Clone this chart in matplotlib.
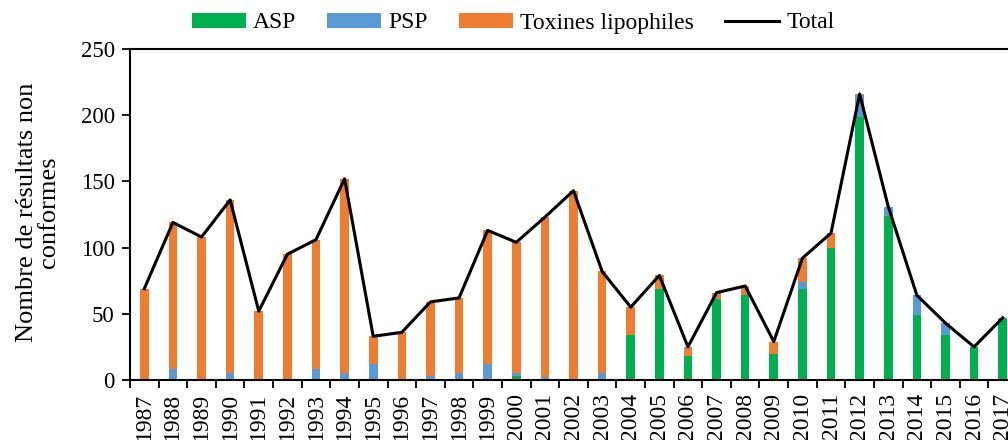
import matplotlib.pyplot as plt
import numpy as np
from matplotlib.lines import Line2D
from matplotlib.patches import Patch

YEARS = list(range(1987, 2018))

ASP = [0, 0, 0, 0, 0, 0, 0, 0, 0, 0,
       0, 0, 0, 3, 0, 0, 0, 34, 69, 18,
       61, 64, 20, 69, 100, 199, 124, 49, 34, 25,
       46]
PSP = [0, 8, 1, 5, 0, 0, 8, 5, 12, 0,
       3, 5, 12, 2, 2, 0, 5, 0, 0, 0,
       0, 0, 0, 5, 0, 16, 7, 15, 9, 0,
       1]
LIPO = [69, 111, 107, 131, 52, 95, 98, 147, 21, 36,
        56, 57, 101, 99, 121, 143, 77, 21, 10, 7,
        5, 7, 9, 18, 11, 1, 0, 0, 0, 0,
        0]

COLORS = {
    "ASP": "#00b050",
    "PSP": "#5b9bd5",
    "LIPO": "#ed7d31",
}

plt.rcParams["font.family"] = ["Liberation Serif", "DejaVu Serif"]

asp = np.array(ASP)
psp = np.array(PSP)
lipo = np.array(LIPO)
total = asp + psp + lipo
x = np.arange(len(YEARS))

fig = plt.figure(figsize=(10.08, 4.4), dpi=100)
# axes run a little past the right edge, as in the original export
ax = fig.add_axes([130 / 1008, 60 / 440, 887 / 1008, 331 / 440])

w = 0.3
ax.bar(x, asp, w, color=COLORS["ASP"], zorder=2)
ax.bar(x, psp, w, bottom=asp, color=COLORS["PSP"], zorder=2)
ax.bar(x, lipo, w, bottom=asp + psp, color=COLORS["LIPO"], zorder=2)
ax.plot(x, total, color="black", linewidth=2.2, zorder=3)

ax.set_xlim(-0.5, len(YEARS) - 0.5)
ax.set_ylim(0, 250)
ax.set_yticks(np.arange(0, 251, 50))
ax.set_xticks(x)
ax.set_xticklabels([str(y) for y in YEARS], rotation=90, fontsize=17)
ax.set_xticks(np.arange(-0.5, len(YEARS), 1), minor=True)
ax.tick_params(axis="x", which="major", length=0, pad=9)
ax.tick_params(axis="x", which="minor", length=6, width=1.3, direction="out")
ax.tick_params(axis="y", length=6, width=1.3, direction="out", labelsize=16.5, pad=5)
for side in ("left", "bottom", "top", "right"):
    ax.spines[side].set_linewidth(1.5)

fig.text(38 / 1008, 1 - 212 / 440, "Nombre de résultats non\nconformes",
         rotation=90, ha="center", va="center", multialignment="center",
         fontsize=19, linespacing=1.0)

handles = [
    Patch(facecolor=COLORS["ASP"], label="ASP"),
    Patch(facecolor=COLORS["PSP"], label="PSP"),
    Patch(facecolor=COLORS["LIPO"], label="Toxines lipophiles"),
    Line2D([0], [0], color="black", linewidth=2.2, label="Total"),
]
fig.legend(handles=handles, loc="center", bbox_to_anchor=(513 / 1008, 1 - 23 / 440),
           ncol=4, frameon=False, fontsize=17, handlelength=2.3, handleheight=0.6,
           handletextpad=0.3, columnspacing=1.3, borderpad=0)

fig.savefig("out.png", dpi=100)
